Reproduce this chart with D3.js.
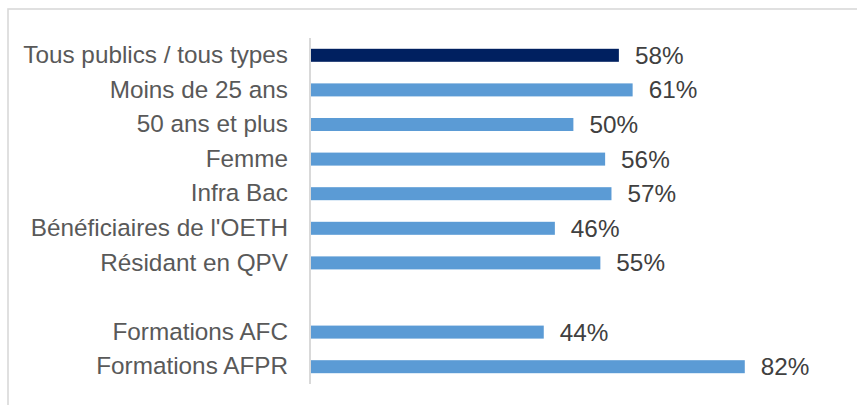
<!DOCTYPE html>
<html>
<head>
<meta charset="utf-8">
<script src="https://cdn.jsdelivr.net/npm/d3@7"></script>
<style>
  html, body { margin: 0; padding: 0; background: #fff; }
  svg { display: block; }
  text { font-family: "Liberation Sans", Arial, sans-serif; }
</style>
</head>
<body>
<svg id="chart" width="857" height="405"></svg>
<script>
const categories = [
  "Tous publics / tous types",
  "Moins de 25 ans",
  "50 ans et plus",
  "Femme",
  "Infra Bac",
  "Bénéficiaires de l'OETH",
  "Résidant en QPV",
  "",
  "Formations AFC",
  "Formations AFPR"
];
const values = [58.2, 60.8, 49.6, 55.6, 56.8, 46.1, 54.7, null, 44.0, 82.0];
const highlight = [true, false, false, false, false, false, false, false, false, false];

const svg = d3.select("#chart");
const W = 857, H = 405;
const FS = "24.3px";

// chart area border
svg.append("rect")
  .attr("x", 8).attr("y", 9)
  .attr("width", W + 20).attr("height", H + 20)
  .attr("fill", "none")
  .attr("stroke", "#d9d9d9")
  .attr("stroke-width", 1.6);

const keys = categories.map((c, i) => "k" + i);
const y = d3.scaleBand().domain(keys).range([38, 384]).paddingInner(0.624).paddingOuter(0.312);
const x = d3.scaleLinear().domain([0, 100]).range([311, 840]);

const data = categories.map((c, i) => ({ key: keys[i], cat: c, v: values[i], hi: highlight[i] }));

// category axis
const yAxis = d3.axisLeft(y).tickSize(0).tickPadding(22).tickFormat((k, i) => categories[i]);
const ag = svg.append("g").attr("transform", `translate(${x(0) - 1},0)`).call(yAxis);
ag.select(".domain").attr("stroke", "#d9d9d9").attr("stroke-width", 2).attr("d", `M0,38V384`);
ag.selectAll("text")
  .attr("fill", "#595959")
  .attr("font-size", FS);

const bars = data.filter(d => d.v != null);

svg.append("g").selectAll("rect")
  .data(bars)
  .join("rect")
  .attr("x", x(0))
  .attr("y", d => y(d.key))
  .attr("width", d => x(d.v) - x(0))
  .attr("height", y.bandwidth())
  .attr("fill", d => d.hi ? "#002060" : "#5b9bd5");

const fmt = v => Math.round(v) + "%";
svg.append("g").selectAll("text")
  .data(bars)
  .join("text")
  .attr("x", d => x(d.v) + 16)
  .attr("y", d => y(d.key) + y.bandwidth() / 2)
  .attr("dy", "0.35em")
  .attr("fill", "#404040")
  .attr("font-size", FS)
  .text(d => fmt(d.v));
</script>
</body>
</html>
